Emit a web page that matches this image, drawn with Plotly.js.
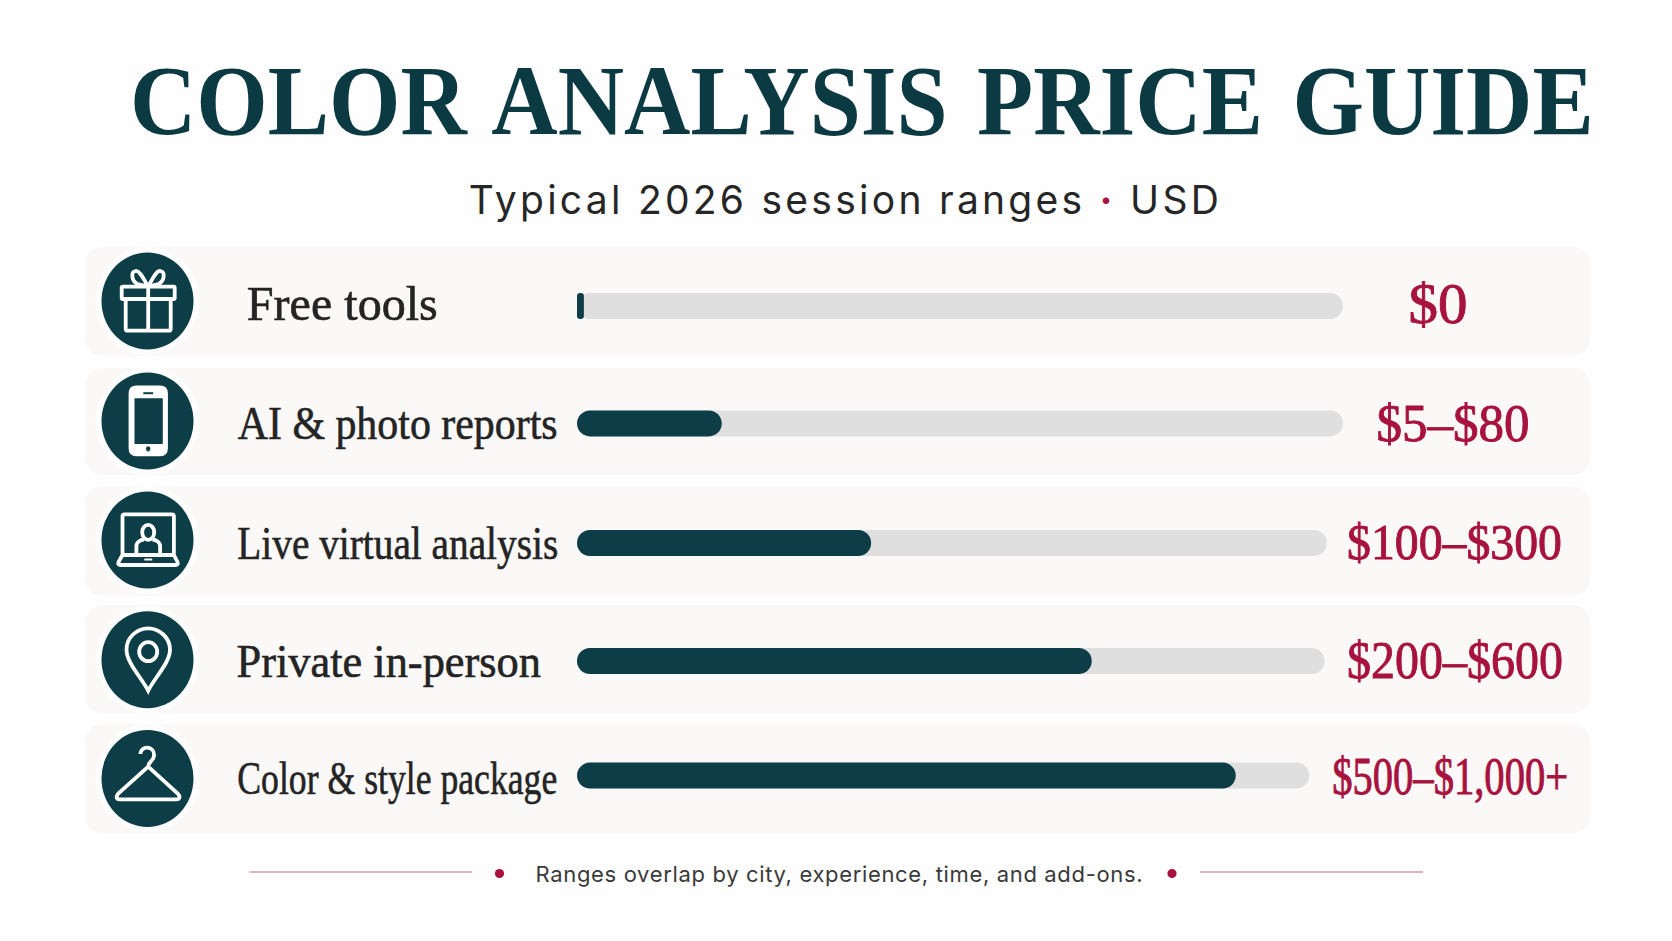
<!DOCTYPE html>
<html>
<head>
<meta charset="utf-8">
<script src="https://cdn.plot.ly/plotly-3.0.1.min.js"></script>
<style>
  body { margin: 0; background: #fefefe; }
</style>
</head>
<body>
<div id="chart" style="width:1672px;height:941px"></div>
<script>
// values, bar length is in % of the longest track
const categories = ['Free tools', 'AI & photo reports', 'Live virtual analysis', 'Private in-person', 'Color & style package']
const priceLabels = ['$0', '$5–$80', '$100–$300', '$200–$600', '$500–$1,000+']
const fillValues = [0.9, 18.9, 38.4, 67.2, 86]
const trackValues = [100, 100, 97.9, 97.6, 95.6]

const W = 1672
const H = 941
const TEAL = '#0d3e47'
const CRIMSON = '#a8123f'

const px = x => x / W
const py = y => 1 - y / H

// layout measured in page pixels
const rowTop = [247, 368, 486, 605, 724]
const rowBottom = [356, 475, 596, 713, 833]
const iconY = [301, 421, 540, 659.7, 778.4]
const iconX = 147.5
const labelSpan = [[247, 438], [237, 557], [237, 558], [237, 541.5], [237, 557]]
const labelY = [303, 423, 543, 661, 778]
const labelSize = [48, 46, 46, 46, 46]
const priceSpan = [[1408, 1467], [1376, 1529], [1347, 1562], [1347, 1563], [1332, 1568]]
const priceY = [304, 423.5, 542, 660, 776]
const priceSize = [56, 52, 50, 52, 52]
const rowStep = 117.4
const barPx = 26
const nudge = [0, 0, 2.2, 2.8, 0]
const barOffset = nudge.map(n => (n - barPx / 2) / rowStep)

const roundedRect = (x0, y0, x1, y1, r) => `M ${x0 + r},${y0} L ${x1 - r},${y0} Q ${x1},${y0} ${x1},${y0 + r} L ${x1},${y1 - r} Q ${x1},${y1} ${x1 - r},${y1} L ${x0 + r},${y1} Q ${x0},${y1} ${x0},${y1 - r} L ${x0},${y0 + r} Q ${x0},${y0} ${x0 + r},${y0} Z`
const oval = (cx, cy, rx, ry) => {
  const kx = rx * 0.5523
  const ky = ry * 0.5523
  return `M ${cx - rx},${cy} C ${cx - rx},${cy - ky} ${cx - kx},${cy - ry} ${cx},${cy - ry} C ${cx + kx},${cy - ry} ${cx + rx},${cy - ky} ${cx + rx},${cy} C ${cx + rx},${cy + ky} ${cx + kx},${cy + ry} ${cx},${cy + ry} C ${cx - kx},${cy + ry} ${cx - rx},${cy + ky} ${cx - rx},${cy} Z`
}
// turn a path in pixels round (cx, cy) into paper coordinates
const toPaper = (d, cx, cy) => d.replace(/(-?[\d.]+),(-?[\d.]+)/g, (m, a, b) => `${px(cx + parseFloat(a)).toFixed(6)},${py(cy + parseFloat(b)).toFixed(6)}`)

const iconParts = [
  // gift
  [
    { d: roundedRect(-25.8, -14.3, 27.2, -2, 1) },
    { d: roundedRect(-21.8, -2, 23.2, 29.7, 2) },
    { d: 'M 0.7,-14.3 L 0.7,29.7' },
    { d: 'M 0.7,-14.5 C -4,-22 -8,-31 -12,-30 C -17,-29 -16,-20 -10,-17 L 0.7,-14.5' },
    { d: 'M 0.7,-14.5 C 5,-22 9,-31 13,-30 C 18,-29 17,-20 11,-17 L 0.7,-14.5' }
  ],
  // phone
  [
    { d: roundedRect(-17, -33.7, 18.5, 33.3, 6), fill: '#ffffff' },
    { d: roundedRect(-13, -22.7, 15.3, 23, 0.5), fill: TEAL, width: 0 },
    { d: 'M -4.2,-27.8 L 5.6,-27.8', color: TEAL, width: 2 },
    { d: oval(0.7, 27.8, 2.2, 2.6), fill: TEAL, width: 0 }
  ],
  // laptop with person
  [
    { d: roundedRect(-25, -25.7, 26.4, 15, 2) },
    { d: 'M -25,15 L -29,22 Q -30,25 -27,25 L 28,25 Q 31,25 30,22 L 26.4,15' },
    { d: 'M -3.2,19.5 L 4.7,19.5', width: 2 },
    { d: oval(0.7, -7.7, 6, 7.5) },
    { d: 'M -11.1,14 L -11.1,6 C -11,2 -7,0 -3.5,-0.5 M 5,-0.5 C 8.5,0 12.5,2 12.6,6 L 12.6,14' }
  ],
  // pin
  [
    { d: 'M 0.7,31 C -6,18 -21,3 -21,-10 C -21,-22 -11,-31.4 0.7,-31.4 C 12,-31.4 22.5,-22 22.5,-10 C 22.5,3 7,18 0.7,31 Z' },
    { d: oval(0.7, -8, 9, 9.5) }
  ],
  // hanger
  [
    { d: 'M -7.2,-24.4 C -7,-33 7,-33 6.6,-23 C 6.3,-17 0.7,-17 0.7,-11.7 L 30,15 C 33,18 32.5,20.9 29,20.9 L -28,20.9 C -31,20.9 -32,18 -29,15 L 0.7,-11.7' }
  ]
]

const shapes = []
categories.forEach((c, i) => {
  shapes.push({
    type: 'path', xref: 'paper', yref: 'paper', layer: 'below',
    path: toPaper(roundedRect(85, rowTop[i], 1590, rowBottom[i], 20), 0, 0),
    fillcolor: '#fbf9f8', line: { width: 0 }
  })
  shapes.push({
    type: 'circle', xref: 'paper', yref: 'paper', layer: 'below',
    x0: px(iconX - 52), x1: px(iconX + 52), y0: py(iconY[i] + 54), y1: py(iconY[i] - 54),
    fillcolor: '#fefdfd', line: { width: 0 }
  })
  shapes.push({
    type: 'circle', xref: 'paper', yref: 'paper', layer: 'below',
    x0: px(iconX - 46), x1: px(iconX + 46), y0: py(iconY[i] + 48.5), y1: py(iconY[i] - 48.5),
    fillcolor: TEAL, line: { width: 0 }
  })
  iconParts[i].forEach(part => {
    shapes.push({
      type: 'path', xref: 'paper', yref: 'paper', layer: 'above',
      path: toPaper(part.d, iconX, iconY[i]),
      fillcolor: part.fill || 'rgba(0,0,0,0)',
      line: { color: part.color || '#ffffff', width: part.width === undefined ? 3.8 : part.width }
    })
  })
})

// footer rules and dots
const footerY = 872
;[[249.5, 472], [1200, 1423]].forEach(span => {
  shapes.push({
    type: 'line', xref: 'paper', yref: 'paper',
    x0: px(span[0]), x1: px(span[1]), y0: py(footerY), y1: py(footerY),
    line: { color: '#c8647f', width: 1.2 }
  })
})
;[499.5, 1172].forEach(x => {
  shapes.push({
    type: 'circle', xref: 'paper', yref: 'paper',
    x0: px(x - 4.6), x1: px(x + 4.6), y0: py(873.5 + 4.6), y1: py(873.5 - 4.6),
    fillcolor: CRIMSON, line: { width: 0 }
  })
})

// every text with the span it has to fill in the reference
const texts = []
const addText = (text, span, y, font, stroke, wordGap) => texts.push({ text, span, y, font, stroke, wordGap })

addText('COLOR ANALYSIS PRICE GUIDE', [130, 1594], 101, { family: 'Liberation Serif', size: 100, color: '#0b3a43', weight: 700 }, 0, 7)
addText('Typical 2026 session ranges <span style="color:' + CRIMSON + '"><b>·</b></span> USD', [469, 1219], 199.5, { family: 'Inter', size: 39, color: '#262626' }, 0)
categories.forEach((c, i) => {
  addText(c, labelSpan[i], labelY[i], { family: 'Liberation Serif', size: labelSize[i], color: '#242424' }, 0.6)
  addText(priceLabels[i], priceSpan[i], priceY[i], { family: 'Liberation Serif', size: priceSize[i], color: CRIMSON }, 0.9)
})
addText('Ranges overlap by city, experience, time, and add-ons.', [535, 1142], 874, { family: 'Inter', size: 22, color: '#3a3a3a' }, 0)

const annotations = texts.map(t => ({
  xref: 'paper', yref: 'paper',
  x: px((t.span[0] + t.span[1]) / 2), y: py(t.y),
  xanchor: 'center', yanchor: 'middle', align: 'center',
  showarrow: false, text: t.text, font: t.font
}))

// an explicit base makes plotly round both ends of the bar
const pillTrace = (values, color) => ({
  type: 'bar', orientation: 'h', y: categories, x: values, base: values.map(() => 0),
  width: barPx / rowStep, offset: barOffset,
  marker: { color: color, cornerradius: 13, line: { width: 0 } },
  hoverinfo: 'skip'
})

const traces = [pillTrace(trackValues, '#dfdfdf'), pillTrace(fillValues, TEAL)]

const layout = {
  width: W,
  height: H,
  margin: { l: 0, r: 0, t: 0, b: 0, pad: 0 },
  paper_bgcolor: '#fefefe',
  plot_bgcolor: 'rgba(0,0,0,0)',
  barmode: 'overlay',
  showlegend: false,
  xaxis: { domain: [px(577), px(1343)], range: [0, 100], visible: false, fixedrange: true },
  yaxis: {
    domain: [py(306 + rowStep * 4.5), py(306 - rowStep / 2)],
    type: 'category', categoryorder: 'array', categoryarray: categories,
    autorange: 'reversed', visible: false, fixedrange: true
  },
  shapes: shapes,
  annotations: annotations
}

Plotly.newPlot('chart', traces, layout, { displayModeBar: false, staticPlot: true }).then(() => {
  // the reference lettering is condensed, squeeze each text into its measured span
  document.querySelectorAll('#chart .annotation-text').forEach((el, i) => {
    const target = texts[i].span[1] - texts[i].span[0]
    if (texts[i].font.family === 'Inter') {
      el.setAttribute('textLength', target)
      el.setAttribute('lengthAdjust', 'spacing')
    } else {
      if (texts[i].wordGap) el.style.wordSpacing = texts[i].wordGap + 'px'
      const box = el.getBBox()
      const mid = box.x + box.width / 2
      el.setAttribute('transform', `translate(${mid} 0) scale(${target / box.width} 1) translate(${-mid} 0)`)
    }
    if (texts[i].stroke) {
      el.style.stroke = texts[i].font.color
      el.style.strokeWidth = texts[i].stroke + 'px'
    }
  })
})
</script>
</body>
</html>
